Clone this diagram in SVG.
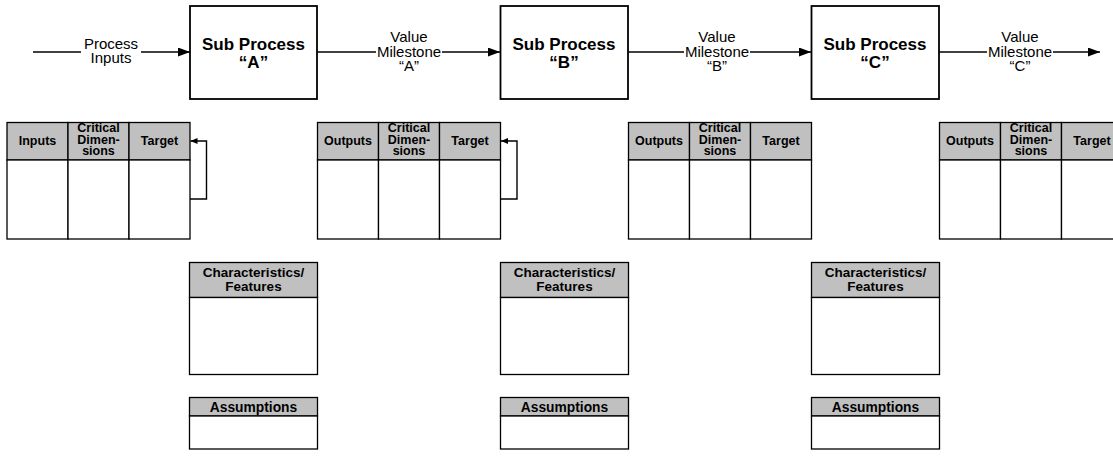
<svg xmlns="http://www.w3.org/2000/svg" width="1113" height="459" viewBox="0 0 1113 459">
<defs>
<marker id="arr" markerUnits="userSpaceOnUse" markerWidth="13" markerHeight="9" refX="12" refY="4.5" orient="auto">
<path d="M0,0 L12,4.5 L0,9 z" fill="#000"/>
</marker>
<marker id="arrs" markerUnits="userSpaceOnUse" markerWidth="8" markerHeight="6" refX="7" refY="3" orient="auto">
<path d="M0,0 L7,3 L0,6 z" fill="#000"/>
</marker>
<style>
.proc{fill:#fff;stroke:#000;stroke-width:1.8}
.hdr{fill:#c0c0c0;stroke:#000;stroke-width:1.3}
.cell{fill:#fff;stroke:#000;stroke-width:1.3}
.ln{fill:none;stroke:#000;stroke-width:1.4}
.pt{font-family:"Liberation Sans",Arial,sans-serif;font-weight:bold;font-size:17px;text-anchor:middle}
.lb{font-family:"Liberation Sans",Arial,sans-serif;font-size:15px;text-anchor:middle}
.th{font-family:"Liberation Sans",Arial,sans-serif;font-weight:bold;font-size:12.5px;text-anchor:middle}
.bh{font-family:"Liberation Sans",Arial,sans-serif;font-weight:bold;font-size:13.5px;text-anchor:middle}
.ah{font-family:"Liberation Sans",Arial,sans-serif;font-weight:bold;font-size:13.8px;text-anchor:middle}
</style>
</defs>
<rect width="1113" height="459" fill="#fff"/>

<g id="connectors">
<line class="ln" x1="33" y1="52" x2="81" y2="52"/>
<line class="ln" x1="141" y1="52" x2="190" y2="52" marker-end="url(#arr)"/>
<line class="ln" x1="317" y1="52" x2="376" y2="52"/>
<line class="ln" x1="442" y1="52" x2="500" y2="52" marker-end="url(#arr)"/>
<line class="ln" x1="628" y1="52" x2="684" y2="52"/>
<line class="ln" x1="750" y1="52" x2="811" y2="52" marker-end="url(#arr)"/>
<line class="ln" x1="939" y1="52" x2="987" y2="52"/>
<line class="ln" x1="1053" y1="52" x2="1100" y2="52" marker-end="url(#arr)"/>
<polyline class="ln" points="190,199 206.5,199 206.5,141 190.5,141" marker-end="url(#arrs)"/>
<polyline class="ln" points="501,199 517,199 517,141 501,141" marker-end="url(#arrs)"/>
</g>

<g id="labels">
<text class="lb" x="111" y="49">Process</text>
<text class="lb" x="111" y="63">Inputs</text>
<text class="lb" x="409" y="42">Value</text>
<text class="lb" x="409" y="57">Milestone</text>
<text class="lb" x="409" y="71">“A”</text>
<text class="lb" x="717" y="42">Value</text>
<text class="lb" x="717" y="57">Milestone</text>
<text class="lb" x="717" y="71">“B”</text>
<text class="lb" x="1020" y="42">Value</text>
<text class="lb" x="1020" y="57">Milestone</text>
<text class="lb" x="1020" y="71">“C”</text>
</g>

<g id="subA">
<rect class="proc" x="190" y="6" width="127" height="93"/>
<text class="pt" x="253.5" y="50">Sub Process</text>
<text class="pt" x="253.5" y="67.5">“A”</text>
</g>
<g id="subB">
<rect class="proc" x="500.5" y="6" width="127.5" height="93"/>
<text class="pt" x="564" y="50">Sub Process</text>
<text class="pt" x="564" y="67.5">“B”</text>
</g>
<g id="subC">
<rect class="proc" x="811.5" y="6" width="127.5" height="93"/>
<text class="pt" x="875" y="50">Sub Process</text>
<text class="pt" x="875" y="67.5">“C”</text>
</g>

<g id="tableInputs">
<rect class="hdr" x="7" y="122.5" width="61" height="37.5"/>
<rect class="hdr" x="68" y="122.5" width="61" height="37.5"/>
<rect class="hdr" x="129" y="122.5" width="61" height="37.5"/>
<rect class="cell" x="7" y="160" width="61" height="79"/>
<rect class="cell" x="68" y="160" width="61" height="79"/>
<rect class="cell" x="129" y="160" width="61" height="79"/>
<text class="th" x="37.5" y="145">Inputs</text>
<text class="th" x="98.5" y="132">Critical</text>
<text class="th" x="98.5" y="143.5">Dimen-</text>
<text class="th" x="98.5" y="155">sions</text>
<text class="th" x="159.5" y="145">Target</text>
</g>

<g id="tableOutputsA">
<rect class="hdr" x="317.5" y="122.5" width="61" height="37.5"/>
<rect class="hdr" x="378.5" y="122.5" width="61" height="37.5"/>
<rect class="hdr" x="439.5" y="122.5" width="61" height="37.5"/>
<rect class="cell" x="317.5" y="160" width="61" height="79"/>
<rect class="cell" x="378.5" y="160" width="61" height="79"/>
<rect class="cell" x="439.5" y="160" width="61" height="79"/>
<text class="th" x="348" y="145">Outputs</text>
<text class="th" x="409" y="132">Critical</text>
<text class="th" x="409" y="143.5">Dimen-</text>
<text class="th" x="409" y="155">sions</text>
<text class="th" x="470" y="145">Target</text>
</g>

<g id="tableOutputsB">
<rect class="hdr" x="628.5" y="122.5" width="61" height="37.5"/>
<rect class="hdr" x="689.5" y="122.5" width="61" height="37.5"/>
<rect class="hdr" x="750.5" y="122.5" width="61" height="37.5"/>
<rect class="cell" x="628.5" y="160" width="61" height="79"/>
<rect class="cell" x="689.5" y="160" width="61" height="79"/>
<rect class="cell" x="750.5" y="160" width="61" height="79"/>
<text class="th" x="659" y="145">Outputs</text>
<text class="th" x="720" y="132">Critical</text>
<text class="th" x="720" y="143.5">Dimen-</text>
<text class="th" x="720" y="155">sions</text>
<text class="th" x="781" y="145">Target</text>
</g>

<g id="tableOutputsC">
<rect class="hdr" x="939.5" y="122.5" width="61" height="37.5"/>
<rect class="hdr" x="1000.5" y="122.5" width="61" height="37.5"/>
<rect class="hdr" x="1061.5" y="122.5" width="61" height="37.5"/>
<rect class="cell" x="939.5" y="160" width="61" height="79"/>
<rect class="cell" x="1000.5" y="160" width="61" height="79"/>
<rect class="cell" x="1061.5" y="160" width="61" height="79"/>
<text class="th" x="970" y="145">Outputs</text>
<text class="th" x="1031" y="132">Critical</text>
<text class="th" x="1031" y="143.5">Dimen-</text>
<text class="th" x="1031" y="155">sions</text>
<text class="th" x="1092" y="145">Target</text>
</g>

<g id="charA">
<rect class="hdr" x="189.5" y="262.5" width="128" height="35"/>
<rect class="cell" x="189.5" y="297.5" width="128" height="77"/>
<text class="bh" x="253.5" y="277">Characteristics/</text>
<text class="bh" x="253.5" y="290.5">Features</text>
</g>
<g id="charB">
<rect class="hdr" x="500.5" y="262.5" width="128" height="35"/>
<rect class="cell" x="500.5" y="297.5" width="128" height="77"/>
<text class="bh" x="564.5" y="277">Characteristics/</text>
<text class="bh" x="564.5" y="290.5">Features</text>
</g>
<g id="charC">
<rect class="hdr" x="811.5" y="262.5" width="128" height="35"/>
<rect class="cell" x="811.5" y="297.5" width="128" height="77"/>
<text class="bh" x="875.5" y="277">Characteristics/</text>
<text class="bh" x="875.5" y="290.5">Features</text>
</g>

<g id="assumA">
<rect class="hdr" x="189.5" y="397.5" width="128" height="18.5"/>
<rect class="cell" x="189.5" y="416" width="128" height="33"/>
<text class="ah" x="253.5" y="411.5">Assumptions</text>
</g>
<g id="assumB">
<rect class="hdr" x="500.5" y="397.5" width="128" height="18.5"/>
<rect class="cell" x="500.5" y="416" width="128" height="33"/>
<text class="ah" x="564.5" y="411.5">Assumptions</text>
</g>
<g id="assumC">
<rect class="hdr" x="811.5" y="397.5" width="128" height="18.5"/>
<rect class="cell" x="811.5" y="416" width="128" height="33"/>
<text class="ah" x="875.5" y="411.5">Assumptions</text>
</g>
</svg>
